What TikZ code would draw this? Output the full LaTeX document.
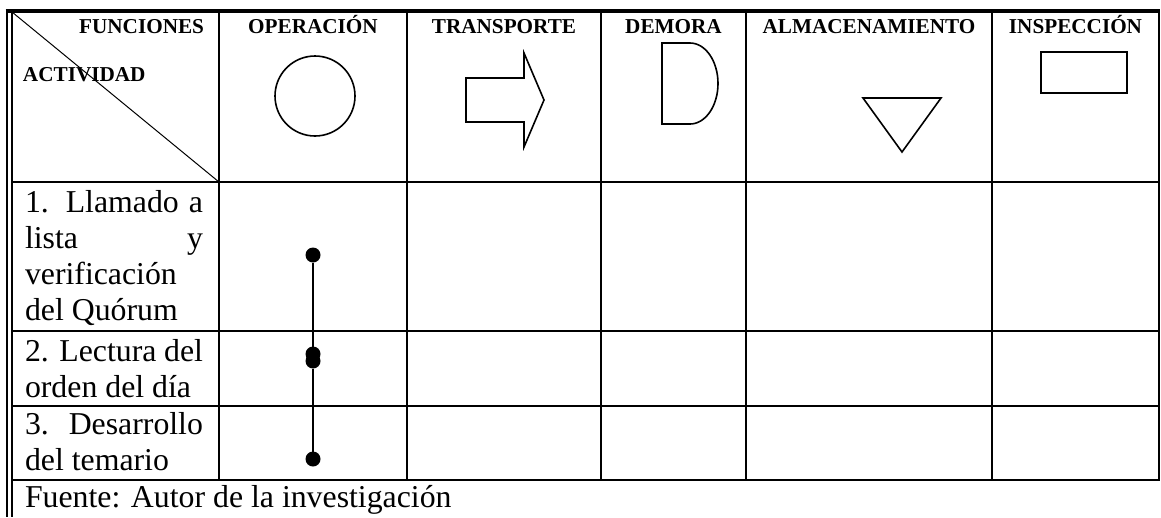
\documentclass[tikz,border=0pt]{standalone}
\usepackage{fontspec}
\setmainfont{Liberation Serif}
\newcommand{\jline}[1]{\makebox[\linewidth][s]{#1}\par}

\begin{document}
\begin{tikzpicture}[x=1pt, y=-1pt, outer sep=0pt]

\tikzstyle{head}=[font=\fontsize{21.2}{24}\selectfont\bfseries, inner sep=0pt, anchor=base]
\tikzstyle{act}=[font=\fontsize{31.8}{36}\selectfont, inner sep=0pt, anchor=base west]
\tikzstyle{grid}=[line width=2.5pt]
\tikzstyle{symbol}=[line width=1.6pt]
\tikzstyle{dot}=[circle, fill, inner sep=0pt, minimum size=15pt]

\useasboundingbox (0,0) rectangle (1161,517);

\draw[line width=3.5pt] (5.5,11) -- (1160.3,11);
\draw[line width=1.7pt] (7,10) -- (7,517); \draw[line width=1.7pt] (12,10) -- (12,517);
\draw[grid] (12,182) -- (1160.3,182); \draw[grid] (12,331) -- (1160.3,331); \draw[grid] (12,406) -- (1160.3,406); \draw[grid] (12,480) -- (1160.3,480);
\draw[grid] (219,11) -- (219,480); \draw[grid] (407,11) -- (407,480); \draw[grid] (601,11) -- (601,480);
\draw[grid] (746,11) -- (746,480); \draw[grid] (992,11) -- (992,480); \draw[grid] (1159,11) -- (1159,480);
\draw[line width=1pt] (12,12) -- (219,182);

\node[head, anchor=base east] (funciones) at (204,33) {FUNCIONES};
\node[head, anchor=base west] (actividad) at (23,81) {ACTIVIDAD};
\node[head] (head1) at (313,33) {OPERACIÓN}; \node[head] (head2) at (504,33) {TRANSPORTE}; \node[head] (head3) at (673.5,33) {DEMORA};
\node[head] (head4) at (869,33) {ALMACENAMIENTO}; \node[head] (head5) at (1075.5,33) {INSPECCIÓN};

\draw[symbol] (315,96) circle (40pt);
\draw[symbol] (466,78) -- (524,78) -- (524,53) -- (544,100) -- (524,147) -- (524,122) -- (466,122) -- cycle;
\draw[symbol] (662,43) -- (690,43) arc[start angle=90, end angle=-90, x radius=28pt, y radius=40.5pt] -- (662,124) -- cycle;
\draw[symbol] (863,98) -- (941,98) -- (902,152) -- cycle;
\draw[symbol] (1041,52) rectangle (1127,93);

\node[act] (act1) at (25,212) {\parbox[t]{178pt}{\jline{1. Llamado a}\jline{lista y}verificación\par del Quórum}};
\node[act] (act2) at (25,361) {\parbox[t]{178pt}{\jline{2. Lectura del}orden del día}};
\node[act] (act3) at (25,434) {\parbox[t]{178pt}{\jline{3. Desarrollo}del temario}};
\node[act] (fuente) at (25,507) {Fuente: Autor de la investigación};

\node[dot] (op1) at (313,255) {}; \node[dot] (op2) at (313,354) {}; \node[dot] (op3) at (313,361) {}; \node[dot] (op4) at (313,459) {};
\draw[line width=2.5pt] (op1) -- (op2); \draw[line width=2.5pt] (op3) -- (op4);

\end{tikzpicture}
\end{document}
